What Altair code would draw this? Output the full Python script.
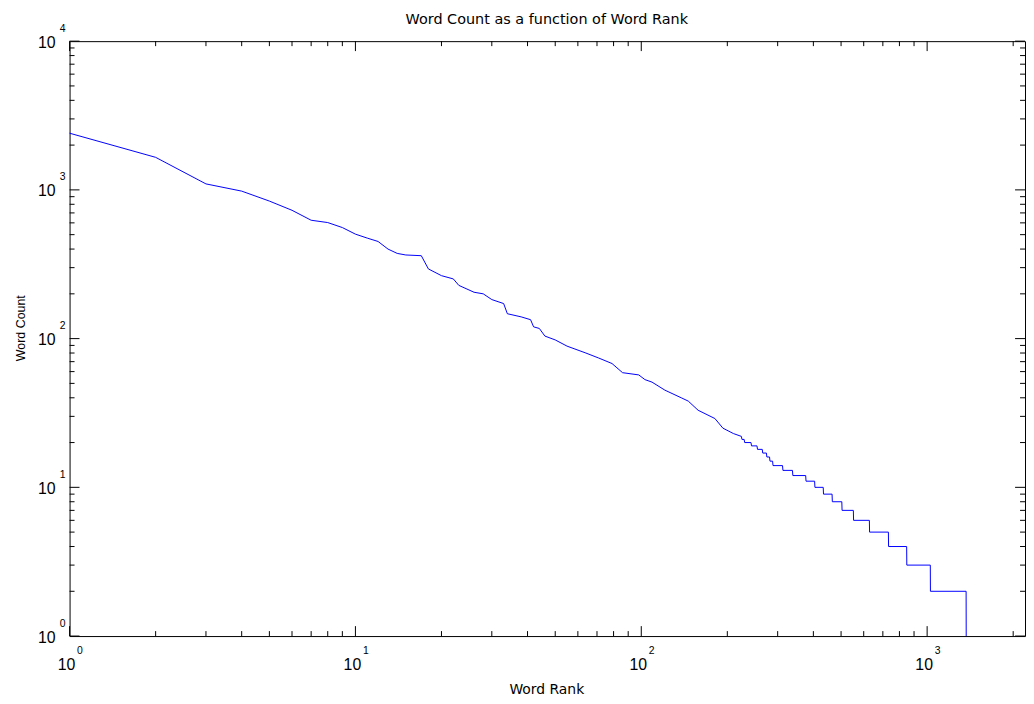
import altair as alt
import pandas as pd

TITLE = "Word Count as a function of Word Rank"
X_TITLE = "Word Rank"
Y_TITLE = "Word Count"

# Head of the curve: word rank -> word count
ranks = [1, 2, 3, 4, 5, 6, 7, 8, 9, 10, 11, 12, 13, 14, 15, 17, 18, 20, 22, 23,
         26, 28, 30, 33, 34, 38, 41, 42, 44, 46, 50, 55, 64, 71, 79, 86, 98, 103,
         109, 121, 138, 146, 158, 181, 193, 210, 224]
counts = [2405, 1655, 1097, 981, 841, 729, 625, 603, 558, 504, 474, 450, 400, 374,
          365, 361, 294, 265, 252, 228, 205, 200, 183, 172, 147, 140, 134, 120, 117,
          104, 98, 89, 80, 74, 68, 59, 57, 53, 51, 45, 40, 38, 33, 29, 25, 23, 22]

# Tail: plateaus of equal integer counts (count, first rank, last rank)
step_counts = [21, 20, 19, 18, 17, 16, 15, 14, 13, 12, 11, 10, 9, 8, 7, 6, 5, 4, 3, 2, 1]
step_start = [225, 230, 243, 255, 266, 275, 282, 289, 313, 339, 377, 405, 434, 466,
              504, 553, 629, 733, 849, 1027, 1370]
step_end = [229, 242, 254, 265, 274, 281, 288, 312, 338, 376, 404, 433, 465, 503,
            552, 628, 732, 848, 1026, 1369, 1370]

# Axis ticks and labels
x_major = [1, 10, 100, 1000]
x_major_exp = ["0", "1", "2", "3"]
x_minor = [2, 3, 4, 5, 6, 7, 8, 9, 20, 30, 40, 50, 60, 70, 80, 90,
           200, 300, 400, 500, 600, 700, 800, 900, 2000]
y_major = [1, 10, 100, 1000, 10000]
y_major_exp = ["0", "1", "2", "3", "4"]
y_minor = [2, 3, 4, 5, 6, 7, 8, 9, 20, 30, 40, 50, 60, 70, 80, 90,
           200, 300, 400, 500, 600, 700, 800, 900,
           2000, 3000, 4000, 5000, 6000, 7000, 8000, 9000]

X_DOMAIN = [1, 2200]
Y_DOMAIN = [1, 10000]

rows = [(r, c) for r, c in zip(ranks, counts)]
for c, s, e in zip(step_counts, step_start, step_end):
    rows.append((s, c))
    if e != s:
        rows.append((e, c))
df = pd.DataFrame(rows, columns=["rank", "count"])

W, H = 962, 599
MAJ, MIN = 10, 5
xs = alt.Scale(type="log", domain=X_DOMAIN)
ys = alt.Scale(type="log", domain=Y_DOMAIN)

line = alt.Chart(df).mark_line(color="#0000ff", strokeWidth=1).encode(
    x=alt.X("rank:Q", scale=xs, axis=None),
    y=alt.Y("count:Q", scale=ys, axis=None),
)


def xtick(vals, y0, y1):
    return alt.Chart(pd.DataFrame({"v": vals})).mark_rule(color="black", strokeWidth=1).encode(
        x=alt.X("v:Q", scale=xs, axis=None), y=alt.value(y0), y2=alt.value(y1))


def ytick(vals, x0, x1):
    return alt.Chart(pd.DataFrame({"v": vals})).mark_rule(color="black", strokeWidth=1).encode(
        y=alt.Y("v:Q", scale=ys, axis=None), x=alt.value(x0), x2=alt.value(x1))


ticks = [
    xtick(x_major, H, H - MAJ), xtick(x_minor, H, H - MIN),
    xtick(x_major, 0, MAJ), xtick(x_minor, 0, MIN),
    ytick(y_major, 0, MAJ), ytick(y_minor, 0, MIN),
    ytick(y_major, W, W - MAJ), ytick(y_minor, W, W - MIN),
]

xl = pd.DataFrame({"v": x_major, "e": x_major_exp})
yl = pd.DataFrame({"v": y_major, "e": y_major_exp})

x_base = alt.Chart(xl).mark_text(text="10", font="Liberation Sans", fontSize=16, color="black",
                                 align="center", baseline="middle", dx=-3).encode(
    x=alt.X("v:Q", scale=xs, axis=None), y=alt.value(H + 29.5))
x_exp = alt.Chart(xl).mark_text(font="Liberation Sans", fontSize=10.5, color="black",
                                align="center", baseline="middle", dx=10.5).encode(
    x=alt.X("v:Q", scale=xs, axis=None), y=alt.value(H + 15.5), text="e:N")
y_base = alt.Chart(yl).mark_text(text="10", font="Liberation Sans", fontSize=16, color="black",
                                 align="right", baseline="middle", dy=1.5).encode(
    y=alt.Y("v:Q", scale=ys, axis=None), x=alt.value(-14))
y_exp = alt.Chart(yl).mark_text(font="Liberation Sans", fontSize=10.5, color="black",
                                align="left", baseline="middle", dy=-12.5).encode(
    y=alt.Y("v:Q", scale=ys, axis=None), x=alt.value(-10), text="e:N")

title = alt.Chart(pd.DataFrame({"t": [TITLE]})).mark_text(
    font="DejaVu Sans", fontSize=14.5, color="black", align="center", baseline="alphabetic").encode(
    text="t:N", x=alt.value(W / 2 - 0.5), y=alt.value(-17))

x_title = alt.Chart(pd.DataFrame({"t": [X_TITLE]})).mark_text(
    font="DejaVu Sans", fontSize=14, color="black", align="center", baseline="alphabetic").encode(
    text="t:N", x=alt.value(W / 2 - 0.5), y=alt.value(H + 58))

y_title = alt.Chart(pd.DataFrame({"t": [Y_TITLE]})).mark_text(
    font="Liberation Sans", fontSize=12.5, color="black", align="center", baseline="alphabetic",
    angle=270).encode(
    text="t:N", x=alt.value(-45), y=alt.value(289))

chart = alt.layer(line, *ticks, x_base, x_exp, y_base, y_exp, title, x_title, y_title).properties(
    width=W, height=H,
    padding={"left": 62, "top": 31, "right": 1, "bottom": 62},
    autosize=alt.AutoSizeParams(type="none"),
    background="white",
).configure_view(stroke="black", strokeWidth=1)

chart.save("out.html", embed_options={"renderer": "svg", "actions": False})
